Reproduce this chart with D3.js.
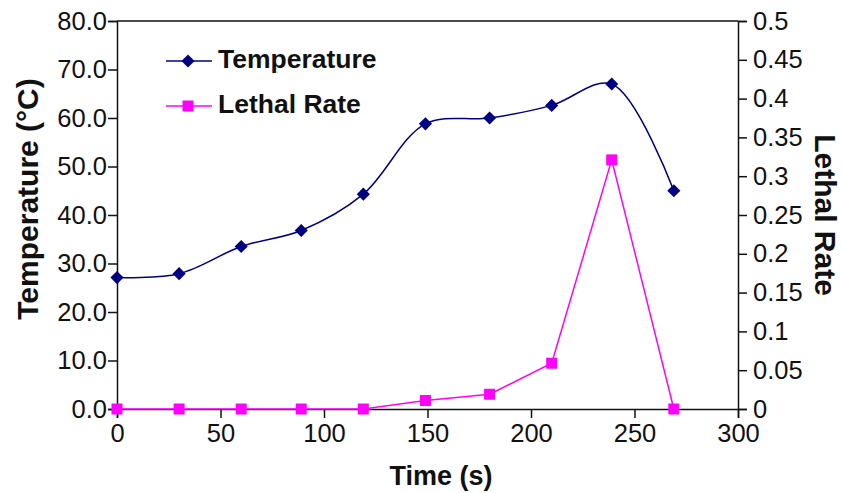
<!DOCTYPE html>
<html>
<head>
<meta charset="utf-8">
<script src="https://cdn.jsdelivr.net/npm/d3@7"></script>
<style>
  body { margin: 0; background: #fff; }
  text { font-family: "Liberation Sans", Arial, sans-serif; fill: #111; }
</style>
</head>
<body>
<div id="chart"></div>
<script>
// data
var times = [0, 30, 60, 89, 119, 149, 180, 210, 239, 269];
var temperature = [27.1, 27.9, 33.5, 36.8, 44.3, 58.8, 60.0, 62.6, 67.0, 45.0];
var lethalRate = [0, 0, 0, 0, 0, 0.011, 0.019, 0.059, 0.321, 0];
var tempTicks = [0, 10, 20, 30, 40, 50, 60, 70, 80];
var rateTicks = [0, 0.05, 0.1, 0.15, 0.2, 0.25, 0.3, 0.35, 0.4, 0.45, 0.5];
var timeTicks = [0, 50, 100, 150, 200, 250, 300];

var width = 842, height = 493;
var margin = {top: 21, right: 104, bottom: 84, left: 117};
var w = width - margin.left - margin.right,
    h = height - margin.top - margin.bottom;

var svg = d3.select("#chart").append("svg")
    .attr("width", width)
    .attr("height", height);

var g = svg.append("g")
    .attr("transform", "translate(" + margin.left + "," + margin.top + ")");

var x = d3.scaleLinear().domain([0, 300]).range([0, w]);
var yT = d3.scaleLinear().domain([0, 80]).range([h, 0]);
var yR = d3.scaleLinear().domain([0, 0.5]).range([h, 0]);

// top border
g.append("line")
    .attr("x1", 0).attr("x2", w).attr("y1", 0).attr("y2", 0)
    .attr("stroke", "#111").attr("stroke-width", 1.5);

var fs = "25.5px";

var ax = g.append("g").attr("transform", "translate(0," + h + ")")
    .call(d3.axisBottom(x).tickValues(timeTicks).tickSize(9).tickPadding(6));
var ayl = g.append("g")
    .call(d3.axisLeft(yT).tickValues(tempTicks).tickFormat(d3.format(".1f")).tickSize(9).tickPadding(1));
var ayr = g.append("g").attr("transform", "translate(" + w + ",0)")
    .call(d3.axisRight(yR).tickValues(rateTicks).tickFormat(function(d){ return d3.format("")(+d.toFixed(2)); }).tickSize(9).tickPadding(6));

[ax, ayl, ayr].forEach(function(a) {
    a.select(".domain").attr("stroke", "#111").attr("stroke-width", 1.5);
    a.selectAll(".tick line").attr("stroke", "#111").attr("stroke-width", 1.5);
    a.selectAll("text").style("font-size", fs).attr("fill", "#111")
        .style("font-family", "'Liberation Sans', Arial, sans-serif");
});

// series lines
var tempData = times.map(function(t, i){ return [t, temperature[i]]; });
var rateData = times.map(function(t, i){ return [t, lethalRate[i]]; });

g.append("path")
    .datum(tempData)
    .attr("fill", "none")
    .attr("stroke", "#000080")
    .attr("stroke-width", 1.5)
    .attr("d", d3.line().curve(d3.curveCatmullRom.alpha(0.5))
        .x(function(d){ return x(d[0]); })
        .y(function(d){ return yT(d[1]); }));

g.append("path")
    .datum(rateData)
    .attr("fill", "none")
    .attr("stroke", "#ff00ff")
    .attr("stroke-width", 1.5)
    .attr("d", d3.line()
        .x(function(d){ return x(d[0]); })
        .y(function(d){ return yR(d[1]); }));

var diamond = d3.symbol().type(d3.symbolDiamond2).size(110);
g.selectAll(".tm").data(tempData).enter().append("path")
    .attr("class", "tm")
    .attr("d", diamond)
    .attr("fill", "#000080")
    .attr("transform", function(d){ return "translate(" + x(d[0]) + "," + yT(d[1]) + ")"; });

g.selectAll(".rm").data(rateData).enter().append("rect")
    .attr("class", "rm")
    .attr("x", function(d){ return x(d[0]) - 5.5; })
    .attr("y", function(d){ return yR(d[1]) - 5.5; })
    .attr("width", 11).attr("height", 11)
    .attr("fill", "#ff00ff");

// legend
var legend = [
    {label: "Temperature", color: "#000080", shape: "diamond", y: 61},
    {label: "Lethal Rate", color: "#ff00ff", shape: "square", y: 106}
];
var lg = svg.append("g");
legend.forEach(function(l) {
    lg.append("line").attr("x1", 166).attr("x2", 212).attr("y1", l.y).attr("y2", l.y)
        .attr("stroke", l.color).attr("stroke-width", 1.5);
    if (l.shape === "diamond") {
        lg.append("path").attr("d", diamond).attr("fill", l.color)
            .attr("transform", "translate(188," + l.y + ")");
    } else {
        lg.append("rect").attr("x", 182.5).attr("y", l.y - 5.5).attr("width", 11).attr("height", 11)
            .attr("fill", l.color);
    }
    lg.append("text").attr("x", 218).attr("y", l.y + 7)
        .style("font-size", "26.5px").style("font-weight", "bold").text(l.label);
});

// axis titles
svg.append("text")
    .attr("transform", "translate(38,199) rotate(-90)")
    .attr("text-anchor", "middle")
    .style("font-size", "30px").style("font-weight", "bold")
    .text("Temperature (°C)");

svg.append("text")
    .attr("transform", "translate(815,215) rotate(90)")
    .attr("text-anchor", "middle")
    .style("font-size", "30px").style("font-weight", "bold")
    .text("Lethal Rate");

svg.append("text")
    .attr("x", 441).attr("y", 485)
    .attr("text-anchor", "middle")
    .style("font-size", "27px").style("font-weight", "bold")
    .text("Time (s)");
</script>
</body>
</html>
